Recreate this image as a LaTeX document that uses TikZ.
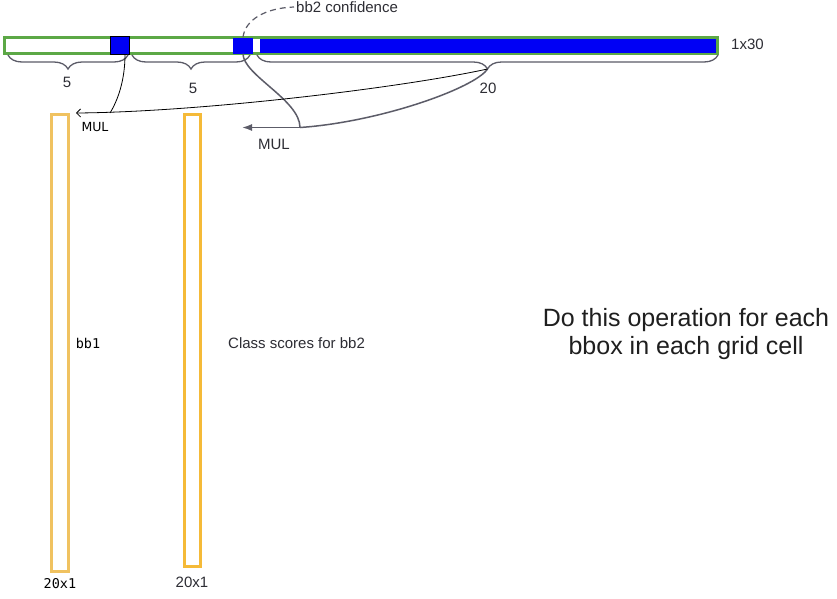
\documentclass[tikz,border=0pt]{standalone}
\usepackage{fontspec}
\setmainfont{Liberation Sans}
\newfontfamily\monofont{DejaVu Sans Mono}
\newfontfamily\dvsans{DejaVu Sans}
\usetikzlibrary{decorations.pathreplacing,arrows.meta}
\definecolor{barGreen}{RGB}{92,168,70}
\definecolor{cellBlue}{RGB}{0,0,245}
\definecolor{boxOrange}{RGB}{240,194,96}
\definecolor{boxOrangeB}{RGB}{245,186,56}
\definecolor{lineGray}{RGB}{92,92,104}
\definecolor{txtGray}{RGB}{45,45,52}
\tikzset{
  cell/.style={fill=cellBlue, inner sep=0pt},
  bracebelow/.style={decorate, decoration={brace, amplitude=14pt, mirror}, draw=lineGray, line width=1.3pt},
  lbl/.style={font=\fontsize{15}{17}\selectfont, text=txtGray, inner sep=0pt},
  monolbl/.style={font=\monofont\fontsize{13.5}{15}\selectfont, inner sep=0pt},
  grayline/.style={draw=lineGray, line width=1.5pt},
  column/.style={draw=#1, line width=3pt, inner sep=0pt, minimum width=17pt}
}
\begin{document}
\begin{tikzpicture}[x=1pt, y=-1pt]
  \useasboundingbox[fill=white] (0,0) rectangle (837,598);
  % --- vector 1x30 ---
  \draw[barGreen, line width=3pt] (4.5,37.5) rectangle (717.5,53.5);
  \node[cell, minimum width=20pt, minimum height=16pt] (bb2c) at (243,45.5) {};
  \node[cell, minimum width=456pt, minimum height=14pt] (cls) at (488,45.5) {};
  \node[cell, draw=black, line width=1pt, minimum width=19pt, minimum height=18pt] (bb1c) at (119.5,45) {};
  \node[lbl, anchor=west] (dim) at (731,44) {1x30};
  % --- braces ---
  \draw[bracebelow] (8,55) -- (128,55) coordinate[midway, yshift=-14pt] (tipA);
  \draw[bracebelow] (132,55) -- (250,55) coordinate[midway, yshift=-14pt] (tipB);
  \draw[bracebelow] (257,55) -- (718,55) coordinate[pos=0.5, yshift=-14pt] (tipC);
  \node[lbl] (nA) at (67,82) {5};
  \node[lbl] (nB) at (193,88) {5};
  \node[lbl] (nC) at (488,88) {20};
  % --- bb2 confidence ---
  \node[lbl, anchor=west] (conf) at (296,7) {bb2 confidence};
  \draw[grayline, line width=1.2pt, dash pattern=on 6pt off 4pt] (bb2c.north) .. controls (245,20) and (265,8) .. ([xshift=-2pt]conf.west);
  % --- MUL for bb2 ---
  \coordinate (mulR) at (300,127.5);
  \coordinate (mulL) at (242,127.5);
  \draw[grayline] (bb2c.south) .. controls (243,75) and (300,100) .. (mulR);
  \draw[grayline] (mulR) .. controls (380,122) and (475,88) .. (tipC);
  \draw[grayline, -{Latex[length=10pt, width=7pt]}] (mulR) -- (mulL);
  \node[lbl] (mulB) at (274,144) {MUL};
  % --- MUL for bb1 ---
  \coordinate (mulA) at (76,113);
  \coordinate (join) at (110,113);
  \draw[black, line width=0.8pt, -{Straight Barb[length=4pt, width=8pt]}] (tipC) .. controls (400,88) and (200,112) .. (mulA);
  \draw[black, line width=0.8pt] ([xshift=5.5pt]bb1c.south) .. controls (125,80) and (118,100) .. (join);
  \node[font=\dvsans\fontsize{12.5}{14}\selectfont, inner sep=0pt] (mulK) at (95,127.5) {MUL};
  % --- columns 20x1 ---
  \node[column=boxOrange, minimum height=457pt] (col1) at (60,343) {};
  \node[column=boxOrangeB, minimum width=16pt, minimum height=452pt] (col2) at (192.5,340.5) {};
  \node[monolbl] (bbA) at (88,343) {bb1};
  \node[monolbl] (dimA) at (60,584) {20x1};
  \node[lbl] (dimB) at (192,582) {20x1};
  \node[lbl, anchor=west] (scores) at (228,343) {Class scores for bb2};
  % --- note ---
  \node[font=\fontsize{25}{28}\selectfont, text=black!88, align=center, inner sep=0pt] (note) at (686,334) {Do this operation for each\\bbox in each grid cell};
\end{tikzpicture}
\end{document}
